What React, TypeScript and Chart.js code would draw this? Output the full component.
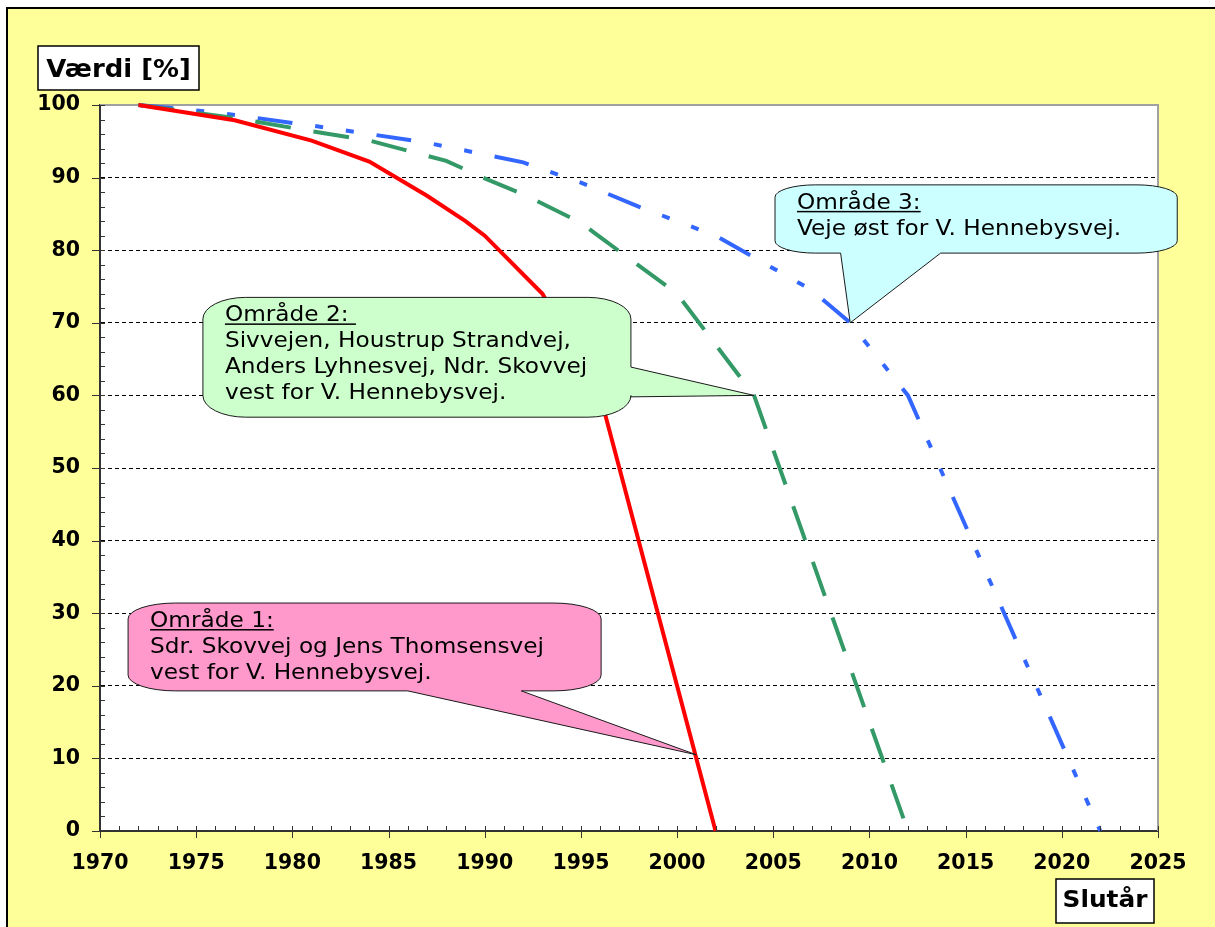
import React, { useEffect, useRef } from 'react';
import { Chart, registerables } from 'chart.js';

Chart.register(...registerables);

// ---------- data ----------
const years1 = [1972, 1977, 1981, 1984, 1987, 1989, 1990, 1993, 1996, 2002];
const values1 = [100, 97.9, 95.1, 92.2, 87.5, 84, 82, 74, 60, 0];

const years2 = [1972, 1977, 1981, 1984, 1988, 1990, 1992, 1995, 1996, 2000, 2004, 2012];
const values2 = [100, 98.2, 96.4, 95.1, 92.3, 89.9, 87.7, 83.8, 81.8, 74, 60, 0];

const years3 = [1972, 1976, 1982, 1987, 1992, 1995, 1998, 2002, 2007, 2009, 2012, 2022];
const values3 = [100, 99, 96.8, 94.8, 92.1, 89.3, 86, 82, 74.5, 70, 60, 0];

const seriesNames = ['Område 1', 'Område 2', 'Område 3'];

const xMin = 1970;
const xMax = 2025;
const xStep = 5;
const yMin = 0;
const yMax = 100;
const yStep = 10;

const yAxisTitle = 'Værdi [%]';
const xAxisTitle = 'Slutår';

const callout1Lines = ['Område 1:', 'Sdr. Skovvej og Jens Thomsensvej', 'vest for V. Hennebysvej.'];
const callout2Lines = [
  'Område 2: ',
  'Sivvejen, Houstrup Strandvej,',
  'Anders Lyhnesvej, Ndr. Skovvej',
  'vest for V. Hennebysvej.',
];
const callout3Lines = ['Område 3:', 'Veje øst for V. Hennebysvej.'];

// ---------- callout placement (data space) ----------
type Callout = {
  lines: string[];
  fill: string;
  box: [number, number, number, number]; // x1, x2 (years), yTop, yBottom (values)
  wedge: { edge: 'bottom' | 'right'; from: number; to: number; tip: [number, number] };
};

const callouts: Callout[] = [
  {
    lines: callout1Lines,
    fill: '#FF99CC',
    box: [1971.46, 1996.05, 31.4, 19.3],
    wedge: { edge: 'bottom', from: 1986.0, to: 1991.9, tip: [2001, 10.5] },
  },
  {
    lines: callout2Lines,
    fill: '#CCFFCC',
    box: [1975.35, 1997.6, 73.5, 57.0],
    wedge: { edge: 'right', from: 63.9, to: 59.8, tip: [2004, 60] },
  },
  {
    lines: callout3Lines,
    fill: '#CCFFFF',
    box: [2005.09, 2026.0, 89.0, 79.6],
    wedge: { edge: 'bottom', from: 2008.5, to: 2013.7, tip: [2009, 70] },
  },
];

const TEXT_STRETCH = 1.08;

function calloutPath(ctx: CanvasRenderingContext2D, x: number, y: number, w: number, h: number,
  wedge: { edge: string; a: number; b: number; tx: number; ty: number }) {
  const rx = Math.min(w * 0.1, 50);
  const ry = h * 0.18;
  ctx.beginPath();
  ctx.moveTo(x + rx, y);
  ctx.lineTo(x + w - rx, y);
  ctx.ellipse(x + w - rx, y + ry, rx, ry, 0, -Math.PI / 2, 0);
  if (wedge.edge === 'right') {
    const a = Math.min(wedge.a, wedge.b);
    const b = Math.max(wedge.a, wedge.b);
    ctx.lineTo(x + w, a);
    ctx.lineTo(wedge.tx, wedge.ty);
    ctx.lineTo(x + w, b);
  }
  ctx.lineTo(x + w, y + h - ry);
  ctx.ellipse(x + w - rx, y + h - ry, rx, ry, 0, 0, Math.PI / 2);
  if (wedge.edge === 'bottom') {
    const a = Math.min(wedge.a, wedge.b);
    const b = Math.max(wedge.a, wedge.b);
    ctx.lineTo(b, y + h);
    ctx.lineTo(wedge.tx, wedge.ty);
    ctx.lineTo(a, y + h);
  }
  ctx.lineTo(x + rx, y + h);
  ctx.ellipse(x + rx, y + h - ry, rx, ry, 0, Math.PI / 2, Math.PI);
  ctx.lineTo(x, y + ry);
  ctx.ellipse(x + rx, y + ry, rx, ry, 0, Math.PI, Math.PI * 1.5);
  ctx.closePath();
}

function titleBox(ctx: CanvasRenderingContext2D, text: string, x: number, y: number, w: number, h: number,
  baselineOff: number, size: number) {
  ctx.save();
  ctx.fillStyle = '#FFFFFF';
  ctx.fillRect(x, y, w, h);
  ctx.strokeStyle = '#000000';
  ctx.lineWidth = 1.5;
  ctx.strokeRect(x, y, w, h);
  ctx.font = `bold ${size}px "DejaVu Sans"`;
  ctx.fillStyle = '#000000';
  ctx.textBaseline = 'alphabetic';
  const tw = ctx.measureText(text).width * TEXT_STRETCH;
  ctx.translate(x + (w - tw) / 2, y + baselineOff);
  ctx.scale(TEXT_STRETCH, 1);
  ctx.fillText(text, 0, 0);
  ctx.restore();
}

const decorPlugin = {
  id: 'decor',
  beforeDraw(chart: any) {
    const { ctx, chartArea: a, width, height } = chart;
    ctx.save();
    ctx.fillStyle = '#FFFFFF';
    ctx.fillRect(0, 0, width, height);
    ctx.fillStyle = '#FFFF99';
    ctx.fillRect(7, 8, width, height);
    ctx.strokeStyle = '#000000';
    ctx.lineWidth = 2;
    ctx.strokeRect(7, 8, width + 20, height + 20);
    ctx.fillStyle = '#FFFFFF';
    ctx.fillRect(a.left, a.top, a.right - a.left, a.bottom - a.top);
    ctx.restore();
  },
  beforeDatasetsDraw(chart: any) {
    const { ctx, chartArea: a } = chart;
    ctx.save();
    ctx.strokeStyle = '#A0A0A0';
    ctx.lineWidth = 2;
    ctx.beginPath();
    ctx.moveTo(a.left, a.top);
    ctx.lineTo(a.right, a.top);
    ctx.lineTo(a.right, a.bottom);
    ctx.stroke();
    ctx.restore();
  },
  afterDatasetsDraw(chart: any) {
    const { ctx } = chart;
    const xs = chart.scales.x;
    const ys = chart.scales.y;
    for (const c of callouts) {
      const x1 = xs.getPixelForValue(c.box[0]);
      const x2 = xs.getPixelForValue(c.box[1]);
      const y1 = ys.getPixelForValue(c.box[2]);
      const y2 = ys.getPixelForValue(c.box[3]);
      const isBottom = c.wedge.edge === 'bottom';
      const a = isBottom ? xs.getPixelForValue(c.wedge.from) : ys.getPixelForValue(c.wedge.from);
      const b = isBottom ? xs.getPixelForValue(c.wedge.to) : ys.getPixelForValue(c.wedge.to);
      const tx = xs.getPixelForValue(c.wedge.tip[0]);
      const ty = ys.getPixelForValue(c.wedge.tip[1]);
      ctx.save();
      calloutPath(ctx, x1, y1, x2 - x1, y2 - y1, { edge: c.wedge.edge, a, b, tx, ty });
      ctx.fillStyle = c.fill;
      ctx.fill();
      ctx.strokeStyle = '#1a1a1a';
      ctx.lineWidth = 1;
      ctx.stroke();
      ctx.font = '21.5px "DejaVu Sans"';
      ctx.fillStyle = '#000000';
      ctx.textBaseline = 'alphabetic';
      c.lines.forEach((line, i) => {
        ctx.save();
        ctx.translate(x1 + 22, y1 + 24 + 26 * i);
        ctx.scale(TEXT_STRETCH, 1);
        ctx.fillText(line, 0, 0);
        if (i === 0) {
          const w = ctx.measureText(line).width;
          ctx.fillRect(0, 2, w, 1.5);
        }
        ctx.restore();
      });
      ctx.restore();
    }
  },
  afterDraw(chart: any) {
    const { ctx, chartArea: a } = chart;
    const xs = chart.scales.x;
    const ys = chart.scales.y;
    ctx.save();
    ctx.strokeStyle = '#333333';
    ctx.lineWidth = 1;
    ctx.beginPath();
    for (let v = xMin; v <= xMax; v += 1) {
      const px = Math.round(xs.getPixelForValue(v)) + 0.5;
      const major = (v - xMin) % xStep === 0;
      ctx.moveTo(px, a.bottom - 5);
      ctx.lineTo(px, a.bottom + (major ? 7 : 0));
    }
    for (let v = yMin; v <= yMax; v += 2) {
      const py = Math.round(ys.getPixelForValue(v)) + 0.5;
      const major = (v - yMin) % yStep === 0;
      ctx.moveTo(a.left - (major ? 8 : 0), py);
      ctx.lineTo(a.left + 5, py);
    }
    ctx.stroke();
    ctx.restore();

    titleBox(ctx, yAxisTitle, a.left - 62, a.top - 59, 161, 44, 31, 24);
    titleBox(ctx, xAxisTitle, a.right - 102, a.bottom + 48, 98, 44, 28, 23);
  },
};

export default function App() {
  const canvasRef = useRef<HTMLCanvasElement | null>(null);

  useEffect(() => {
    if (!canvasRef.current) return;
    const mk = (xs: number[], vs: number[]) => xs.map((x, i) => ({ x, y: vs[i] }));
    const chart = new Chart(canvasRef.current, {
      type: 'line',
      data: {
        datasets: [
          {
            label: seriesNames[0],
            data: mk(years1, values1),
            borderColor: '#FF0000',
            borderWidth: 4,
            pointRadius: 0,
            tension: 0,
            fill: false,
            clip: 6,
          },
          {
            label: seriesNames[1],
            data: mk(years2, values2),
            borderColor: '#339966',
            borderWidth: 4,
            borderDash: [36, 23],
            pointRadius: 0,
            tension: 0,
            fill: false,
            clip: 6,
          },
          {
            label: seriesNames[2],
            data: mk(years3, values3),
            borderColor: '#3366FF',
            borderWidth: 4,
            borderDash: [35, 23, 8, 23, 8, 23],
            pointRadius: 0,
            tension: 0,
            fill: false,
            clip: 6,
          },
        ],
      },
      options: {
        animation: false,
        responsive: false,
        events: [],
        layout: { padding: { left: 8, right: 57, top: 105, bottom: 56 } },
        plugins: {
          legend: { display: false },
          tooltip: { enabled: false },
          title: { display: false },
        },
        scales: {
          x: {
            type: 'linear',
            min: xMin,
            max: xMax,
            afterFit: (s: any) => {
              s.height = 40;
            },
            ticks: {
              stepSize: xStep,
              autoSkip: false,
              maxRotation: 0,
              padding: 20,
              color: '#000000',
              font: { family: '"DejaVu Sans"', size: 20.5, weight: 'bold' },
              callback: (v: any) => String(v),
            },
            grid: { drawOnChartArea: false, drawTicks: false },
            border: { display: true, color: '#333333', width: 2 },
          },
          y: {
            type: 'linear',
            min: yMin,
            max: yMax,
            afterFit: (s: any) => {
              s.width = 92;
            },
            ticks: {
              stepSize: yStep,
              padding: 20,
              color: '#000000',
              font: { family: '"DejaVu Sans"', size: 20.5, weight: 'bold' },
              callback: (v: any) => String(v),
            },
            grid: {
              drawTicks: false,
              lineWidth: 1,
              color: (c: any) =>
                c.tick && (c.tick.value === yMin || c.tick.value === yMax) ? 'rgba(0,0,0,0)' : '#000000',
            },
            border: { display: true, color: '#333333', width: 2, dash: [4, 3] },
          },
        },
      },
      plugins: [decorPlugin],
    });
    return () => chart.destroy();
  }, []);

  return (
    <div style={{ position: 'absolute', left: 0, top: 0, width: 1215, height: 927 }}>
      <canvas ref={canvasRef} width={1215} height={927} style={{ display: 'block' }} />
    </div>
  );
}
